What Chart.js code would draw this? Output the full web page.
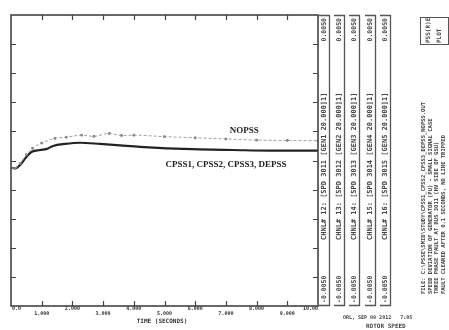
<!DOCTYPE html>
<html><head><meta charset="utf-8">
<script src="https://cdn.jsdelivr.net/npm/chart.js@4"></script>
<style>html,body{margin:0;padding:0;background:#fff}canvas{display:block}</style>
</head><body><canvas id="c" width="449" height="330"></canvas>
<script>
// ---- data ----
const cpssTimes  = [0, 0.13, 0.3, 0.5, 0.68, 0.95, 1.17, 1.37, 1.76, 2.25, 2.9, 3.55, 4.2, 5.08, 6.16, 7.23, 8.44, 10];
const cpssValues = [4.75, 4.73, 4.85, 5.12, 5.30, 5.36, 5.40, 5.50, 5.57, 5.61, 5.57, 5.52, 5.47, 5.42, 5.38, 5.36, 5.34, 5.34];
const nopssTimes  = [0, 0.13, 0.3, 0.5, 0.7, 1.0, 1.43, 1.8, 2.3, 2.7, 3.2, 3.6, 4.0, 5.0, 6.0, 7.0, 8.0, 9.0, 10.0];
const nopssValues = [4.75, 4.73, 4.90, 5.20, 5.42, 5.60, 5.76, 5.80, 5.87, 5.83, 5.93, 5.86, 5.87, 5.82, 5.78, 5.74, 5.70, 5.69, 5.68];
const xTickValues = [0,1,2,3,4,5,6,7,8,9,10];
const xTickLabels = ['0.0','1.000','2.000','3.000','4.000','5.000','6.000','7.000','8.000','9.000','10.00'];
const yTickValues = [1,2,3,4,5,6,7,8,9];
const xTitle = 'TIME (SECONDS)';
const seriesNames = ['NOPSS', 'CPSS1, CPSS2, CPSS3, DEPSS'];
const channelTop    = ['0.0050', '0.0050', '0.0050', '0.0050', '0.0050'];
const channelNames  = ['CHNL# 12: [SPD 3011 [GEN1 20.000]1]', 'CHNL# 13: [SPD 3012 [GEN2 20.000]1]', 'CHNL# 14: [SPD 3013 [GEN3 20.000]1]', 'CHNL# 15: [SPD 3014 [GEN4 20.000]1]', 'CHNL# 16: [SPD 3015 [GEN5 20.000]1]'];
const channelBottom = ['-0.0050', '-0.0050', '-0.0050', '-0.0050', '-0.0050'];
const infoHeader = ['PSS(R)E', 'PLOT'];
const infoLines = ['FILE: C:\\PSSE\\SMIB\\STUDY\\CPSS1_CPSS2_CPSS3_DEPSS_NOPSS.OUT', 'SPEED DEVIATION OF GENERATOR (PU) - SMALL SIGNAL CASE', 'THREE PHASE FAULT AT BUS 3011 (HV SIDE OF GSU)', 'FAULT CLEARED AFTER 0.1 SECONDS, NO LINE TRIPPED'];
const footer = ['ORL, SEP 09 2012   7:05', 'ROTOR SPEED'];

const pts = (xs, ys) => xs.map((x, i) => ({x, y: ys[i]}));

const decor = {
  id: 'decor',
  afterDraw(chart) {
    const {ctx, chartArea: a, scales: {x, y}} = chart;
    ctx.save();
    ctx.strokeStyle = '#444'; ctx.fillStyle = '#333';
    ctx.lineWidth = 1.6;
    ctx.strokeRect(a.left, a.top, a.right - a.left, a.bottom - a.top);
    ctx.lineWidth = 1.2;
    ctx.beginPath();
    xTickValues.slice(1, -1).forEach(v => {
      const px = Math.round(x.getPixelForValue(v)) + 0.5;
      ctx.moveTo(px, a.top); ctx.lineTo(px, a.top + 5);
      ctx.moveTo(px, a.bottom); ctx.lineTo(px, a.bottom - 5);
    });
    yTickValues.forEach(v => {
      const py = Math.round(y.getPixelForValue(v)) + 0.5;
      ctx.moveTo(a.left, py); ctx.lineTo(a.left + 5, py);
      ctx.moveTo(a.right, py); ctx.lineTo(a.right - 5, py);
    });
    ctx.stroke();
    ctx.font = 'bold 5px "DejaVu Sans Mono"';
    ctx.textBaseline = 'middle';
    xTickValues.forEach((v, i) => {
      const px = x.getPixelForValue(v);
      ctx.textAlign = i === 0 ? 'left' : (i === xTickValues.length - 1 ? 'right' : 'center');
      ctx.fillText(xTickLabels[i], px + (i === 0 ? 1 : 0), i % 2 === 0 ? 309 : 314);
    });
    ctx.textAlign = 'center';
    ctx.font = 'bold 6px "DejaVu Sans Mono"';
    ctx.fillText(xTitle, 162, 321);
    ctx.font = 'bold 9px "Liberation Serif"';
    ctx.fillStyle = '#222';
    ctx.fillText(seriesNames[0], x.getPixelForValue(7.6), y.getPixelForValue(6.04));
    ctx.fillText(seriesNames[1], x.getPixelForValue(7.0), y.getPixelForValue(4.87));
    const vtext = (s, px, py, align) => {
      ctx.save(); ctx.translate(px, py); ctx.rotate(-Math.PI / 2);
      ctx.textAlign = align; ctx.textBaseline = 'middle'; ctx.fillText(s, 0, 0); ctx.restore();
    };
    const colX = [329, 344, 359, 375, 390];
    ctx.fillStyle = '#444';
    colX.forEach((cx, i) => {
      ctx.lineWidth = 1.3; ctx.strokeStyle = '#555';
      ctx.beginPath(); ctx.moveTo(cx + 0.5, a.top); ctx.lineTo(cx + 0.5, a.bottom); ctx.stroke();
      ctx.beginPath(); ctx.moveTo(cx - 10, a.top + 0.5); ctx.lineTo(cx + 1, a.top + 0.5);
      ctx.moveTo(cx - 10, a.bottom - 0.5); ctx.lineTo(cx + 1, a.bottom - 0.5); ctx.stroke();
      ctx.font = 'bold 6.5px "DejaVu Sans Mono"';
      vtext(channelTop[i], cx - 5, a.top + 3, 'right');
      vtext(channelBottom[i], cx - 5, a.bottom - 3, 'left');
      ctx.font = 'bold 7px "DejaVu Sans Mono"';
      vtext(channelNames[i], cx - 5, 240, 'left');
    });
    ctx.strokeStyle = '#555'; ctx.lineWidth = 1;
    ctx.strokeRect(420.5, 17.5, 28, 27);
    ctx.font = 'bold 6px "DejaVu Sans Mono"';
    vtext(infoHeader[0], 428, 43, 'left');
    vtext(infoHeader[1], 439, 43, 'left');
    ctx.font = 'bold 5.5px "DejaVu Sans Mono"';
    infoLines.forEach((s, i) => vtext(s, 424 + i * 6.5, 294, 'left'));
    ctx.textAlign = 'left';
    ctx.font = 'bold 5px "DejaVu Sans Mono"';
    ctx.fillText(footer[0], 343, 318);
    ctx.font = 'bold 6px "DejaVu Sans Mono"';
    ctx.fillText(footer[1], 366, 326);
    ctx.restore();
  }
};

new Chart(document.getElementById('c'), {
  type: 'line',
  data: {
    datasets: [
      {label: seriesNames[0], data: pts(nopssTimes, nopssValues), borderColor: '#a0a0a0', borderWidth: 1,
       borderDash: [3, 2], pointRadius: 1.2, pointStyle: 'rect', pointBackgroundColor: '#888', pointBorderColor: '#888',
       tension: 0.3, cubicInterpolationMode: 'monotone'},
      {label: seriesNames[1], data: pts(cpssTimes, cpssValues), borderColor: '#222', borderWidth: 2.2,
       pointRadius: 0, tension: 0.3, cubicInterpolationMode: 'monotone'}
    ]
  },
  options: {
    responsive: false, animation: false, devicePixelRatio: 1,
    layout: {padding: {left: 11, top: 15, right: 131, bottom: 24}},
    plugins: {legend: {display: false}, tooltip: {enabled: false}},
    scales: {
      x: {type: 'linear', min: 0, max: 10, display: false},
      y: {type: 'linear', min: 0, max: 10, display: false}
    }
  },
  plugins: [decor]
});
</script></body></html>
